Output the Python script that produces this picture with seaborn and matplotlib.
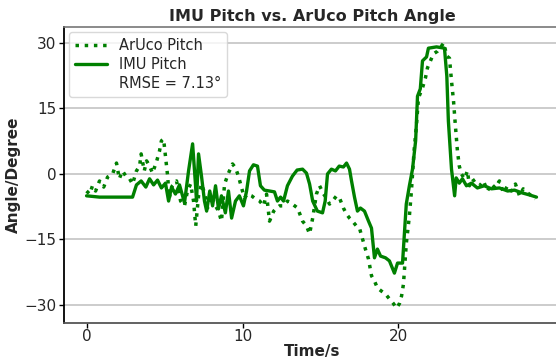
import numpy as np
import seaborn as sns
import matplotlib.pyplot as plt

# IMU pitch (solid line), time in s, angle in degree
imu_t = [0, 0.83, 2.1, 2.95, 3.2, 3.5, 3.8, 4.04, 4.3, 4.55, 4.8, 5.06, 5.26, 5.45, 5.7,
         5.96, 6.28, 6.54, 6.8, 6.99, 7.05, 7.18, 7.37, 7.56, 7.7, 7.9, 8.08, 8.27, 8.46,
         8.65, 8.9, 9.1, 9.3, 9.55, 9.8, 10.06, 10.26, 10.45, 10.7, 10.96, 11.15, 11.4,
         11.73, 12.05, 12.24, 12.44, 12.63, 12.88, 13.2, 13.5, 13.85, 14.1, 14.3, 14.5,
         14.8, 15.13, 15.3, 15.45, 15.7, 15.96, 16.2, 16.47, 16.67, 16.86, 16.99, 17.18,
         17.37, 17.56, 17.82, 18.08, 18.27, 18.46, 18.65, 18.85, 19.17, 19.42, 19.74,
         19.94, 20.26, 20.5, 20.7, 20.9, 21.1, 21.22, 21.4, 21.54, 21.8, 21.92, 22.44,
         22.95, 23.1, 23.2, 23.4, 23.6, 23.7, 23.9, 24.1, 24.36, 24.68, 25.06, 25.5,
         25.96, 26.47, 27.0, 27.44, 27.9, 28.4, 28.85]
imu_pitch = [-5.0, -5.3, -5.3, -5.3, -2.5, -1.6, -3.0, -1.1, -2.5, -1.4, -3.2, -2.1, -6.2,
             -3.0, -4.6, -2.5, -6.6, 0.7, 6.9, -2.7, -6.2, 4.6, -0.5, -6.2, -8.5, -3.9,
             -7.3, -2.7, -8.0, -5.0, -8.9, -3.9, -10.1, -6.2, -5.0, -7.3, -3.9, 0.7, 2.1,
             1.8, -2.7, -3.7, -3.9, -4.1, -6.2, -5.3, -6.2, -2.7, -0.5, 0.9, 1.1, 0.2,
             -2.3, -6.2, -8.5, -8.9, -6.2, 0.0, 1.1, 0.7, 1.8, 1.6, 2.5, 1.1, -1.6, -5.3,
             -8.5, -7.8, -8.5, -10.8, -12.4, -19.2, -17.2, -18.8, -19.2, -19.9, -22.7,
             -20.4, -20.4, -6.9, -2.7, 1.1, 7.6, 17.8, 19.5, 25.9, 26.8, 28.8, 29.1, 28.8,
             22.4, 12.1, 1.1, -5.0, -0.9, -2.1, -1.1, -2.7, -2.1, -3.2, -2.7, -3.4, -3.2,
             -3.9, -3.7, -4.3, -4.8, -5.3]

# ArUco pitch (dotted line)
aruco_t = [0, 0.2, 0.38, 0.58, 0.83, 1.1, 1.35, 1.67, 1.92, 2.1, 2.3, 2.56, 2.76, 2.95,
           3.2, 3.4, 3.5, 3.7, 3.85, 4.04, 4.23, 4.5, 4.68, 4.8, 4.94, 5.06, 5.2, 5.3,
           5.5, 5.77, 6.03, 6.28, 6.47, 6.67, 6.86, 7.0, 7.18, 7.37, 7.56, 7.76, 8.0,
           8.27, 8.46, 8.65, 8.85, 9.1, 9.36, 9.55, 9.74, 9.94, 10.13, 10.32, 10.58,
           10.83, 11.1, 11.35, 11.54, 11.73, 12.0, 12.18, 12.37, 12.63, 12.88, 13.2,
           13.53, 13.85, 14.1, 14.3, 14.5, 14.74, 14.94, 15.2, 15.38, 15.58, 15.77,
           16.03, 16.22, 16.47, 16.67, 16.86, 17.05, 17.3, 17.5, 17.7, 17.88, 18.08,
           18.27, 18.46, 18.65, 18.9, 19.17, 19.42, 19.68, 19.87, 20.06, 20.2, 20.32,
           20.5, 20.7, 20.83, 21.0, 21.15, 21.28, 21.54, 21.73, 21.86, 22.05, 22.24,
           22.5, 22.76, 22.9, 23.1, 23.27, 23.4, 23.53, 23.65, 23.78, 23.9, 24.04,
           24.23, 24.42, 24.55, 24.74, 24.94, 25.2, 25.45, 25.7, 25.96, 26.2, 26.47,
           26.73, 27.0, 27.24, 27.5, 27.76, 28.0, 28.27, 28.53, 28.78]
aruco_pitch = [-3.9, -4.6, -2.7, -3.9, -1.6, -3.0, -0.7, 0.0, 2.5, -1.1, 0.7, -0.7, -1.1,
               -2.3, 0.7, 1.8, 4.6, 0.7, 3.0, 1.8, 0.2, 3.0, 5.3, 7.6, 8.0, 4.1, -0.5,
               -5.5, -2.7, -1.6, -6.2, -7.3, -3.9, -2.3, -6.2, -11.9, -5.0, -2.3, -4.3,
               -7.8, -5.0, -7.3, -8.5, -10.8, -2.3, 0.2, 2.3, 1.4, -0.5, -3.2, -5.5,
               -4.6, -5.0, -5.7, -6.2, -7.3, -4.6, -10.8, -8.5, -7.8, -7.3, -7.3, -6.2,
               -6.9, -7.8, -10.8, -11.9, -13.7, -10.1, -4.6, -2.7, -4.6, -5.5, -6.9,
               -6.2, -5.0, -5.5, -7.8, -9.2, -10.1, -10.8, -11.9, -12.4, -14.9, -17.2,
               -19.5, -23.3, -24.5, -26.1, -26.8, -27.5, -28.6, -29.7, -30.7, -29.7,
               -27.9, -25.2, -16.0, -9.6, -3.9, 5.3, 11.0, 17.4, 19.7, 22.0, 24.3, 25.9,
               27.5, 28.1, 29.3, 30.0, 27.0, 26.5, 21.3, 16.7, 11.0, 5.3, 1.8, 0.0,
               -1.1, 0.7, -2.7, -1.1, -2.1, -2.7, -1.6, -3.9, -2.3, -3.2, -1.6, -4.3,
               -2.7, -3.9, -2.3, -5.0, -3.4, -4.3, -5.0, -5.7]

rmse_label = "RMSE = 7.13°"

sns.set_style("white")
plt.rcParams['font.family'] = ['DejaVu Sans']

fig = plt.figure(figsize=(5.56, 3.62), dpi=100)
ax = fig.add_axes([0.115, 0.108, 0.892, 0.818])

sns.lineplot(x=aruco_t, y=aruco_pitch, ax=ax, color="green", linestyle=":",
             linewidth=2.5, label="ArUco Pitch", sort=False)
sns.lineplot(x=imu_t, y=imu_pitch, ax=ax, color="green", linestyle="-",
             linewidth=2.4, label="IMU Pitch", sort=False)
ax.plot([], [], " ", label=rmse_label)

ax.set_xlim(-1.45, 30.35)
ax.set_ylim(-34.1, 33.7)
ax.set_xticks([0, 10, 20])
ax.set_yticks([-30, -15, 0, 15, 30])
ax.grid(axis="y", color="#c4c4c4", linewidth=1.2)
ax.set_axisbelow(True)

ax.set_title("IMU Pitch vs. ArUco Pitch Angle", fontsize=11.5, fontweight="bold", pad=4)
ax.set_xlabel("Time/s", fontsize=11, fontweight="bold", labelpad=0)
ax.set_ylabel("Angle/Degree", fontsize=11, fontweight="bold", labelpad=2)
ax.tick_params(axis="both", labelsize=11, length=3.5, width=1, color="black",
               left=True, bottom=True, direction="out")
ax.tick_params(axis="x", pad=1)
ax.tick_params(axis="y", pad=2)

ax.spines["left"].set_color("black")
ax.spines["left"].set_linewidth(1.3)
ax.spines["bottom"].set_color("#555555")
ax.spines["bottom"].set_linewidth(1.3)
ax.spines["top"].set_color("#777777")
ax.spines["top"].set_linewidth(1.2)
ax.spines["right"].set_visible(False)

leg = ax.legend(loc="upper left", fontsize=10.5, frameon=True, handlelength=2.2,
                borderaxespad=0.35, labelspacing=0.3)
leg.get_frame().set_edgecolor("#d0d0d0")

fig.savefig("out.png", dpi=100)
